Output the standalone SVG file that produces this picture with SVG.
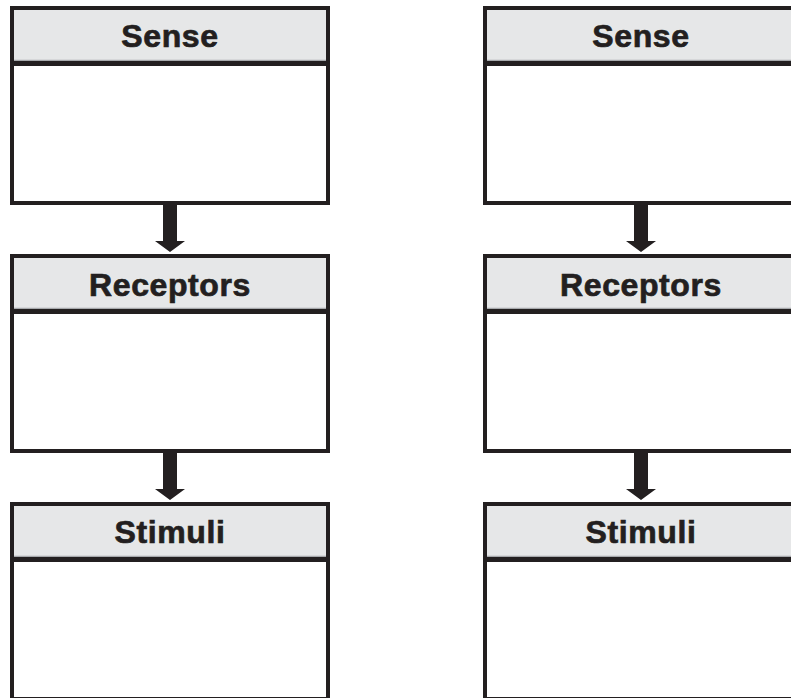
<svg xmlns="http://www.w3.org/2000/svg" width="791" height="698" viewBox="0 0 791 698">
  <defs>
    <style>
      .frame { fill: #ffffff; stroke: #231f20; stroke-width: 4; }
      .head { fill: #e6e7e8; }
      .rule { stroke: #231f20; stroke-width: 5; }
      .hair { stroke: #a7a9ac; stroke-width: 1.5; }
      .label { font-family: "Liberation Sans", Arial, sans-serif; font-weight: bold; font-size: 32px; fill: #231f20; stroke: #231f20; stroke-width: 0.7; text-anchor: middle; letter-spacing: 0.6px; }
      .arrow { fill: #231f20; }
    </style>
    <!-- one titled box: frame, grey title band, divider; origin at outer top-left -->
    <g id="box">
      <rect class="frame" x="2" y="2" width="316" height="195"/>
      <rect class="head" x="4" y="4" width="312" height="51"/>
      <line class="hair" x1="4" y1="54.5" x2="316" y2="54.5"/>
      <line class="rule" x1="2" y1="57.5" x2="318" y2="57.5"/>
    </g>
  </defs>

  <rect width="791" height="698" fill="#ffffff"/>

  <!-- left column -->
  <g id="sense-left" transform="translate(10,6)">
    <use href="#box"/>
    <text class="label" x="160" y="41">Sense</text>
  </g>
  <g id="receptors-left" transform="translate(10,254)">
    <use href="#box"/>
    <text class="label" x="160" y="42">Receptors</text>
  </g>
  <g id="stimuli-left" transform="translate(10,502)">
    <use href="#box"/>
    <text class="label" x="160" y="41">Stimuli</text>
  </g>

  <!-- right column -->
  <g id="sense-right" transform="translate(483,6)">
    <use href="#box"/>
    <text class="label" x="158" y="41">Sense</text>
  </g>
  <g id="receptors-right" transform="translate(483,254)">
    <use href="#box"/>
    <text class="label" x="158" y="42">Receptors</text>
  </g>
  <g id="stimuli-right" transform="translate(483,502)">
    <use href="#box"/>
    <text class="label" x="158" y="41">Stimuli</text>
  </g>

  <!-- block arrows between boxes -->
  <g id="connectors">
    <polygon class="arrow" points="163,205 177,205 177,241 185,241 170,252 155,241 163,241"/>
    <polygon class="arrow" points="163,453 177,453 177,489 185,489 170,500 155,489 163,489"/>
    <polygon class="arrow" points="634,205 648,205 648,241 656,241 641,252 626,241 634,241"/>
    <polygon class="arrow" points="634,453 648,453 648,489 656,489 641,500 626,489 634,489"/>
  </g>
</svg>
